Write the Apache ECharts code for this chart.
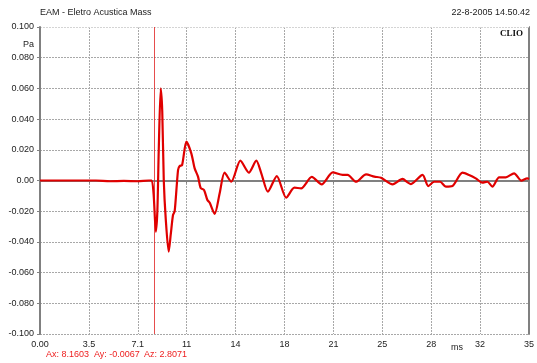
<!DOCTYPE html>
<html>
<head>
<meta charset="utf-8">
<script src="https://cdn.jsdelivr.net/npm/echarts@6/dist/echarts.min.js"></script>
<style>html,body{margin:0;padding:0;background:#fff}#c{width:537px;height:363px}</style>
</head>
<body>
<div id="c"></div>
<script>
// Time (ms) and pressure (Pa)
var timeMs = [0, 2, 4, 5, 6, 7, 7.8, 8.0, 8.14, 8.29, 8.4, 8.5, 8.64, 8.75, 8.86, 9.0, 9.21, 9.36, 9.52, 9.64, 9.88, 10.0, 10.17, 10.48, 10.83, 11.07, 11.31, 11.5, 11.74, 11.98, 12.14, 12.5, 12.86, 13.21, 13.69, 14.34, 14.95, 15.48, 15.84, 16.31, 16.95, 17.62, 18.21, 18.69, 19.45, 20.16, 20.95, 21.66, 22.02, 22.62, 23.34, 23.93, 24.41, 25.24, 25.95, 26.31, 26.55, 27.38, 27.79, 28.21, 28.64, 29.05, 29.52, 30.24, 30.71, 31.19, 31.66, 32.02, 32.38, 32.86, 33.34, 33.93, 34.45, 34.88, 35.0];
var pressurePa = [0, 0, 0, -0.0005, -0.0003, -0.0005, 0, 0, -0.01, -0.0333, -0.02, 0.02, 0.060, 0.045, 0.0, -0.025, -0.0464, -0.035, -0.0225, -0.020, 0.0068, 0.0094, 0.010, 0.0253, 0.0177, 0.0079, 0.0025, -0.0049, -0.0062, -0.0127, -0.0144, -0.0218, -0.0083, 0.0051, -0.0008, 0.0129, 0.0051, 0.0129, 0.0047, -0.0073, 0.0029, -0.0112, -0.0047, -0.0051, 0.0023, -0.0025, 0.0053, 0.0036, 0.0036, -0.0008, 0.004, 0.0025, 0.0018, -0.0025, 0.001, -0.0012, -0.0023, 0.0036, -0.0036, -0.0008, -0.0008, -0.004, -0.0036, 0.0051, 0.0036, 0.0014, -0.0014, -0.0008, -0.004, 0.0021, 0.0021, 0.0047, -0.0001, 0.0014, 0.001];
var xTickLabels = ["0.00", "3.5", "7.1", "11", "14", "18", "21", "25", "28", "32", "35"];
var yTickLabels = ["-0.100", "-0.080", "-0.060", "-0.040", "-0.020", "0.00", "0.020", "0.040", "0.060", "0.080", "0.100"];
var cursorMs = 8.1603;
var cursorText = ["Ax: 8.1603", "Ay: -0.0067", "Az: 2.8071"];

var seriesData = timeMs.map(function (t, i) { return [t, pressurePa[i]]; });
var font = "'Liberation Sans', Arial, sans-serif";
var chart = echarts.init(document.getElementById('c'), null, { renderer: 'canvas' });
chart.setOption({
  animation: false,
  backgroundColor: '#ffffff',
  grid: { left: 40, right: 7, top: 27, bottom: 29, containLabel: false },
  xAxis: {
    type: 'value', min: 0, max: 35, interval: 3.5,
    axisLine: { show: true, lineStyle: { color: '#808080', width: 2 } },
    axisTick: { show: true, length: 3, lineStyle: { color: '#808080' } },
    axisLabel: { color: '#222', fontSize: 9, fontFamily: font, margin: 6,
      formatter: function (v) { return xTickLabels[Math.round(v / 3.5)]; } },
    splitLine: { show: true, lineStyle: { color: '#a8a8a8', type: [2, 1], width: 1 } }
  },
  yAxis: [{
    type: 'value', min: -0.1, max: 0.1, interval: 0.02,
    axisLine: { show: true, lineStyle: { color: '#808080', width: 2 } },
    axisTick: { show: true, length: 3, lineStyle: { color: '#808080' } },
    axisLabel: { color: '#222', fontSize: 9, fontFamily: font, margin: 6,
      formatter: function (v) { return yTickLabels[Math.round((v + 0.1) / 0.02)]; } },
    splitLine: { show: true, lineStyle: { color: '#a8a8a8', type: [2, 1], width: 1 } }
  }, {
    type: 'value', min: -0.1, max: 0.1, interval: 0.02, position: 'right',
    axisLine: { show: true, lineStyle: { color: '#808080', width: 2 } },
    axisTick: { show: false }, axisLabel: { show: false }, splitLine: { show: false }
  }],
  series: [{
    type: 'line', data: seriesData, smooth: 0.25, showSymbol: false, symbol: 'none',
    lineStyle: { color: '#e00000', width: 2.2 },
    z: 5,
    markLine: {
      silent: true, symbol: 'none', label: { show: false },
      lineStyle: { color: '#e02020', width: 1, type: 'solid', opacity: 0.8 },
      data: [{ xAxis: cursorMs }]
    }
  }],
  graphic: [
    { type: 'rect', shape: { x: 41, y: 26, width: 488, height: 1.5 }, style: { fill: '#ffffff' }, z: 1 },
    { type: 'text', left: 40, top: 8, style: { text: 'EAM - Eletro Acustica Mass', fontSize: 9, fontFamily: font, fill: '#222' } },
    { type: 'text', right: 7, top: 8, style: { text: '22-8-2005 14.50.42', fontSize: 9, fontFamily: font, fill: '#222' } },
    { type: 'text', right: 14, top: 29, style: { text: 'CLIO', fontSize: 9, fontWeight: 'bold', fontFamily: "'Liberation Serif', 'Times New Roman', serif", fill: '#111' } },
    { type: 'text', right: 503, top: 40, style: { text: 'Pa', fontSize: 9, fontFamily: font, fill: '#222' } },
    { type: 'text', left: 451, top: 343, style: { text: 'ms', fontSize: 9, fontFamily: font, fill: '#222' } },
    { type: 'text', left: 46, top: 350, style: { text: cursorText[0], fontSize: 9, fontFamily: font, fill: '#ee2020' } },
    { type: 'text', left: 94, top: 350, style: { text: cursorText[1], fontSize: 9, fontFamily: font, fill: '#ee2020' } },
    { type: 'text', left: 144, top: 350, style: { text: cursorText[2], fontSize: 9, fontFamily: font, fill: '#ee2020' } }
  ]
});
</script>
</body>
</html>
